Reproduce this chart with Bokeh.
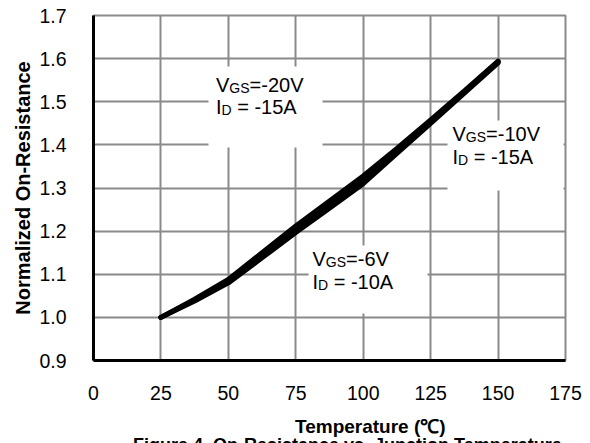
from bokeh.plotting import figure
from bokeh.models import FixedTicker, PrintfTickFormatter, Range1d, Div
from bokeh.layouts import column
from bokeh.embed import file_html
from bokeh.resources import INLINE
from bokeh.core.properties import value

# ---------------- data ----------------
temperature = [25, 37.5, 50, 62.5, 75, 87.5, 100, 112.5, 125, 137.5, 150]
r_vgs20_id15 = [1.000, 1.040, 1.085, 1.145, 1.205, 1.262, 1.320, 1.387, 1.455, 1.523, 1.593]
r_vgs10_id15 = [1.000, 1.038, 1.080, 1.138, 1.197, 1.253, 1.310, 1.380, 1.450, 1.520, 1.590]
r_vgs6_id10 = [1.000, 1.042, 1.088, 1.150, 1.212, 1.270, 1.328, 1.392, 1.458, 1.525, 1.594]

x_ticks = [0, 25, 50, 75, 100, 125, 150, 175]
y_ticks = [0.9, 1.0, 1.1, 1.2, 1.3, 1.4, 1.5, 1.6, 1.7]

x_title = "Temperature (℃)"
y_title = "Normalized On-Resistance"
caption = "Figure 4. On-Resistance vs. Junction Temperature"

vgs_values = ["=-20V", "=-10V", "=-6V"]
id_values = ["= -15A", "= -15A", "= -10A"]

# ---------------- layout ----------------
W, H = 590, 406
FL, FR, FT, FB = 93, 565, 15, 360  # frame edges in pixels
XMIN, XMAX, YMIN, YMAX = 0, 175, 0.9, 1.7
FONT = "Liberation Sans"
GRID = "#8a8a8a"
BASE_FIX = -9  # text glyph baseline correction (px)


def dx(px):
    return XMIN + (px - FL) / (FR - FL) * (XMAX - XMIN)


def dy(py):
    return YMAX - (py + BASE_FIX - FT) / (FB - FT) * (YMAX - YMIN)


def dy_box(py):
    return YMAX - (py - FT) / (FB - FT) * (YMAX - YMIN)


p = figure(width=W, height=H, x_range=Range1d(XMIN, XMAX), y_range=Range1d(YMIN, YMAX),
           min_border_left=FL, min_border_right=W - FR, min_border_top=FT,
           min_border_bottom=H - FB, output_backend="svg", toolbar_location=None)
p.background_fill_color = "white"
p.border_fill_color = "white"
p.outline_line_color = GRID
p.outline_line_width = 2

for ax in (p.xaxis[0], p.yaxis[0]):
    ax.axis_line_color = "black"
    ax.axis_line_width = 3
    ax.major_tick_out = 0
    ax.major_tick_in = 0
    ax.minor_tick_out = 0
    ax.minor_tick_in = 0
    ax.major_label_text_font = FONT
    ax.major_label_text_font_size = "19.5px"
    ax.major_label_text_color = "black"

p.xaxis.ticker = FixedTicker(ticks=x_ticks)
p.yaxis.ticker = FixedTicker(ticks=y_ticks)
p.yaxis.formatter = PrintfTickFormatter(format="%.1f")
p.xaxis.major_label_standoff = 25
p.yaxis.major_label_standoff = 27

p.yaxis.axis_label = y_title
p.yaxis.axis_label_text_font = FONT
p.yaxis.axis_label_text_font_size = "20px"
p.yaxis.axis_label_text_font_style = "bold"
p.yaxis.axis_label_text_color = "black"
p.yaxis.axis_label_standoff = 2

p.xgrid.ticker = FixedTicker(ticks=x_ticks)
p.ygrid.ticker = FixedTicker(ticks=y_ticks)
for g in (p.xgrid[0], p.ygrid[0]):
    g.grid_line_color = GRID
    g.grid_line_width = 2

# white boxes behind the annotations (pixel boxes)
boxes = [(208, 322, 66, 147), (447, 563, 120, 190), (308, 427, 245, 313)]
p.quad(left=[dx(b[0]) for b in boxes], right=[dx(b[1]) for b in boxes],
       top=[dy_box(b[2]) for b in boxes], bottom=[dy_box(b[3]) for b in boxes],
       fill_color="white", line_color=None)

# curves
for series in (r_vgs20_id15, r_vgs10_id15, r_vgs6_id10):
    p.line(temperature, series, line_width=5, line_color="black",
           line_cap="round", line_join="round")

# annotations: (left x, baseline of line 1, baseline of line 2) in pixels
anchors = [(215.5, 93, 115), (452, 142, 165), (312, 267, 290)]
MAIN, SUB = 20, 14
w_V = 0.667 * MAIN
w_GS = (0.778 + 0.667) * SUB
w_I = 0.278 * MAIN
w_D = 0.722 * SUB
w_sp = 0.278 * MAIN

main_x, main_y, main_t = [], [], []
sub_x, sub_y, sub_t = [], [], []
for (x0, b1, b2), vgs, idv in zip(anchors, vgs_values, id_values):
    main_x += [dx(x0), dx(x0 + w_V + w_GS), dx(x0), dx(x0 + w_I + w_D + w_sp)]
    main_y += [dy(b1), dy(b1), dy(b2), dy(b2)]
    main_t += ["V", vgs, "I", idv]
    sub_x += [dx(x0 + w_V), dx(x0 + w_I)]
    sub_y += [dy(b1 + 3), dy(b2 + 3)]
    sub_t += ["GS", "D"]

p.text(x=main_x, y=main_y, text=main_t, text_font=value(FONT),
       text_font_size=f"{MAIN}px", text_baseline="alphabetic", text_align="left",
       text_color="black")
p.text(x=sub_x, y=sub_y, text=sub_t, text_font=value(FONT),
       text_font_size=f"{SUB}px", text_baseline="alphabetic", text_align="left",
       text_color="black")

# x-axis title (off-centre, as in the reference) and the figure caption below
html = (
    "<div style='position:relative;width:590px;height:60px;"
    f"font-family:\"{FONT}\";font-weight:bold;color:black;'>"
    "<div style='position:absolute;left:295px;top:10.5px;font-size:19px;"
    f"line-height:19px;white-space:nowrap;'>{x_title}</div>"
    "<div style='position:absolute;left:133px;top:30px;font-size:18px;"
    f"line-height:18px;white-space:nowrap;'>{caption}</div>"
    "</div>"
)
below = Div(text=html, width=W, height=60, margin=(0, 0, 0, 0))

layout = column(p, below, spacing=0)
open("out.html", "w").write(file_html(layout, INLINE))
